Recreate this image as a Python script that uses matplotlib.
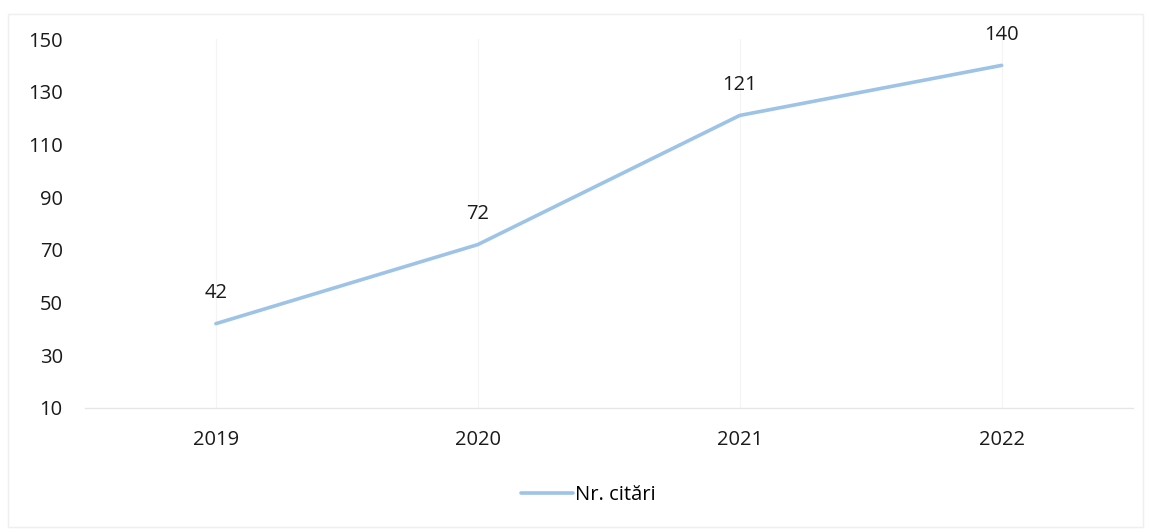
import matplotlib.pyplot as plt
from matplotlib.patches import Rectangle

plt.rcParams['font.family'] = ['Open Sans', 'DejaVu Sans']

years = ['2019', '2020', '2021', '2022']
citari = [42, 72, 121, 140]
y_ticks = [10, 30, 50, 70, 90, 110, 130, 150]

fig = plt.figure(figsize=(11.51, 5.30), dpi=100)
ax = fig.add_axes([0.0738, 0.2302, 0.9102, 0.6962])

x = list(range(len(years)))
ax.plot(x, citari, color='#9dc3e6', linewidth=2.6, solid_capstyle='round', label='Nr. citări')

for xi, v in zip(x, citari):
    ax.annotate(str(v), (xi, v), xytext=(0, 22), textcoords='offset points',
                ha='center', va='center', fontsize=14.5, color='#1a1a1a')

# faint vertical gridlines at categories
for xi in x:
    ax.axvline(xi, color='#f4f4f4', linewidth=0.8, zorder=0)

ax.set_xlim(-0.5, len(years) - 0.5)
ax.set_ylim(10, 150)
ax.set_yticks(y_ticks)
ax.set_xticks(x)
ax.set_xticklabels(years)
ax.tick_params(axis='both', length=0, labelsize=14.5, colors='#1a1a1a')
ax.tick_params(axis='y', pad=16)
ax.tick_params(axis='x', pad=16)

for s in ['top', 'right', 'left']:
    ax.spines[s].set_visible(False)
ax.spines['bottom'].set_color('#e6e6e6')
ax.spines['bottom'].set_linewidth(1)

fig.legend(loc='center', bbox_to_anchor=(588 / 1151, 1 - 495 / 530), frameon=False,
           fontsize=14.5, handlelength=2.6, handletextpad=0.1)

fig.patches.append(Rectangle((8 / 1151, 0.005), 1 - 16 / 1151, 1 - 14 / 530 - 0.005,
                             transform=fig.transFigure, fill=False,
                             edgecolor='#efefef', linewidth=1))

plt.savefig('out.png', dpi=100)
